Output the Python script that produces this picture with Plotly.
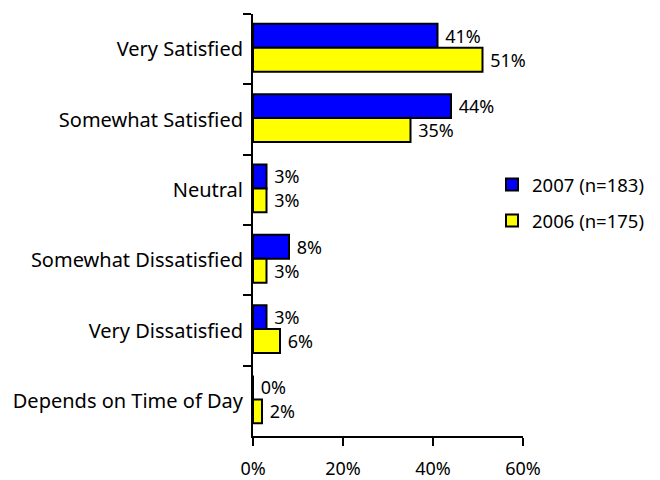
import plotly.graph_objects as go

categories = ["Very Satisfied", "Somewhat Satisfied", "Neutral",
              "Somewhat Dissatisfied", "Very Dissatisfied", "Depends on Time of Day"]
values_2007 = [41, 44, 3, 8, 3, 0]
values_2006 = [51, 35, 3, 3, 6, 2]
name_2007 = "2007 (n=183)"
name_2006 = "2006 (n=175)"
x_ticks = [0, 20, 40, 60]
x_tick_labels = ["0%", "20%", "40%", "60%"]

FONT = "Noto Sans"
W, H = 652, 472  # page body margin (8px) compensation

common = dict(orientation="h", textposition="outside", constraintext="none",
              cliponaxis=False, width=0.34,
              textfont=dict(size=18, color="black", family=FONT))

fig = go.Figure()
fig.add_trace(go.Bar(
    y=categories, x=values_2007, name=name_2007, offset=-0.36,
    text=[f" {v}%" for v in values_2007],
    marker=dict(color="#0000FF", line=dict(color="black", width=2)),
    legendgroup="a", **common,
))
fig.add_trace(go.Bar(
    y=categories, x=values_2006, name=name_2006, offset=-0.02,
    text=[f" {v}%" for v in values_2006],
    marker=dict(color="#FFFF00", line=dict(color="black", width=2)),
    legendgroup="b", **common,
))

fig.update_layout(
    width=W, height=H,
    margin=dict(l=245, r=137, t=6, b=44, autoexpand=False),
    paper_bgcolor="white", plot_bgcolor="white",
    font=dict(family=FONT, size=18, color="black"),
    barmode="group", bargap=0.32, bargroupgap=0,
    showlegend=True,
    legend=dict(xref="container", yref="container", x=484 / W, y=(H - 158) / H,
                xanchor="left", yanchor="top",
                font=dict(size=18.5, family=FONT), tracegroupgap=9,
                traceorder="grouped", bgcolor="rgba(0,0,0,0)"),
)
fig.update_xaxes(
    range=[0, 60], tickvals=x_ticks, ticktext=x_tick_labels,
    tickfont=dict(size=18, family=FONT),
    showline=True, linecolor="black", linewidth=2,
    ticks="outside", ticklen=8, tickwidth=2, tickcolor="black",
    showgrid=False, zeroline=False, ticklabelstandoff=7, automargin=False,
)
fig.update_yaxes(
    autorange="reversed", type="category",
    tickfont=dict(size=20, family=FONT),
    showline=True, linecolor="black", linewidth=2,
    ticks="outside", ticklen=8, tickwidth=2, tickcolor="black",
    tickson="boundaries", showgrid=False, ticklabelstandoff=4, automargin=False,
)

fig.write_html("out.html")
